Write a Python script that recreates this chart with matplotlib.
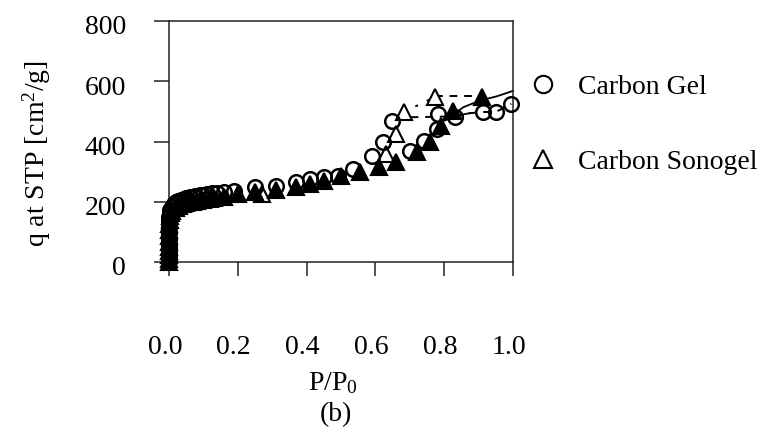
import matplotlib
matplotlib.use("Agg")
import matplotlib.pyplot as plt
from matplotlib.lines import Line2D
from matplotlib.transforms import ScaledTranslation

plt.rcParams["font.family"] = ["Liberation Serif", "DejaVu Serif"]
plt.rcParams["mathtext.fontset"] = "custom"
plt.rcParams["mathtext.rm"] = "Liberation Serif"
plt.rcParams["mathtext.it"] = "Liberation Serif:italic"

# --- Carbon Gel (open circles) ---
gel_ads_x = [0, 0, 0, 0, 0, 0, 0, 0, 0, 0.001, 0.002, 0.004, 0.008, 0.015,
             0.02, 0.027, 0.035, 0.045, 0.05, 0.06, 0.075, 0.09, 0.10, 0.11,
             0.125, 0.14, 0.16, 0.19, 0.25, 0.31, 0.37, 0.41, 0.45, 0.49,
             0.535, 0.70, 0.74, 0.78, 0.83, 0.913, 0.95, 0.995]
gel_ads_y = [2, 15, 30, 45, 60, 75, 95, 115, 135, 150, 163, 174, 183, 192,
             198, 203, 207, 210, 212, 215, 218, 222, 224, 225,
             228, 230, 232, 236, 249, 252, 266, 276, 282, 286,
             309, 368, 403, 442, 481, 498, 498, 525]
gel_des_x = [0.782, 0.647, 0.622, 0.589]
gel_des_y = [491, 469, 398, 353]
gel_fit_x = [0.80, 0.82, 0.84, 0.86, 0.875]
gel_fit_y = [469, 478, 486, 491, 494]
gel_des_line_x = [0.66, 0.78, 0.83, 0.875, 0.913, 0.95, 0.995]
gel_des_line_y = [480, 482, 484, 494, 498, 498, 525]

# --- Carbon Sonogel (filled: adsorption, open: desorption) ---
sono_ads_x = [0, 0, 0, 0, 0, 0, 0, 0, 0, 0.002, 0.004, 0.006, 0.01, 0.02,
              0.03, 0.04, 0.05, 0.06, 0.07, 0.08, 0.09, 0.10, 0.12, 0.13,
              0.16, 0.20, 0.25, 0.31, 0.37, 0.41, 0.45, 0.50, 0.555, 0.61,
              0.66, 0.72, 0.76, 0.79, 0.826, 0.91]
sono_ads_y = [0, 10, 22, 35, 50, 65, 85, 105, 125, 140, 152, 162, 170, 180,
              186, 192, 195, 198, 200, 203, 205, 207, 210, 212,
              216, 225, 232, 240, 250, 258, 270, 286, 299, 315,
              332, 365, 398, 452, 502, 548]
sono_des_x = [0.773, 0.683, 0.66, 0.63, 0.27]
sono_des_y = [548, 498, 425, 359, 226]
sono_fit_x = [0.822, 0.856, 0.904, 0.953, 1.0]
sono_fit_y = [486, 514, 536, 550, 568]
sono_dot_x = [0.683, 0.773]
sono_dot_y = [498, 548]
sono_dash_x = [0.773, 0.91]
sono_dash_y = [550, 550]

x_ticks = [0.0, 0.2, 0.4, 0.6, 0.8, 1.0]
y_ticks = [0, 200, 400, 600, 800]

FS = 20

fig = plt.figure(figsize=(7.62, 4.35), dpi=100)
ax = fig.add_axes([169 / 762, 1 - 263 / 435, 344 / 762, 241 / 435])

ms_c = 10.5
ms_t = 11.5
ew = 1.5

# connecting lines
ax.plot(gel_fit_x, gel_fit_y, color="black", lw=1.3, zorder=2)
ax.plot(sono_fit_x, sono_fit_y, color="black", lw=1.3, zorder=2,
        clip_on=False)
ax.plot(gel_des_line_x, gel_des_line_y, color="black", lw=1.4,
        linestyle=(0, (4, 3.5)), zorder=2)
ax.plot(sono_dot_x, sono_dot_y, color="black", lw=1.4,
        linestyle=(0, (1.5, 5)), zorder=2)
ax.plot(sono_dash_x, sono_dash_y, color="black", lw=1.4,
        linestyle=(0, (4, 3.5)), zorder=2)

# markers (left unclipped so points on the axes edges show whole)
ax.plot(sono_des_x, sono_des_y, linestyle="none", marker="^", ms=ms_t,
        mfc="white", mec="black", mew=ew, zorder=3, clip_on=False)
ax.plot(sono_ads_x, sono_ads_y, linestyle="none", marker="^", ms=ms_t,
        mfc="black", mec="black", mew=ew, zorder=3, clip_on=False)
ax.plot(gel_ads_x, gel_ads_y, linestyle="none", marker="o", ms=ms_c,
        mfc="none", mec="black", mew=ew + 0.3, zorder=4, clip_on=False)
ax.plot(gel_des_x, gel_des_y, linestyle="none", marker="o", ms=ms_c,
        mfc="none", mec="black", mew=ew + 0.3, zorder=4, clip_on=False)

ax.set_xlim(0, 1.0)
ax.set_ylim(0, 800)
ax.set_xticks(x_ticks)
ax.set_xticklabels([f"{v:.1f}" for v in x_ticks])
ax.set_yticks(y_ticks)
ax.set_yticklabels([str(v) for v in y_ticks])
for s in ax.spines.values():
    s.set_linewidth(1.1)
    s.set_color("#222222")
ax.tick_params(axis="x", direction="out", length=10, width=1.1, pad=42,
               labelsize=FS, color="#222222")
ax.tick_params(axis="y", direction="out", length=11, width=1.1, pad=20,
               labelsize=FS, color="#222222")
shift_x = ScaledTranslation(-4 / 100, 0, fig.dpi_scale_trans)
for lab in ax.get_xticklabels():
    lab.set_transform(lab.get_transform() + shift_x)
shift_y = ScaledTranslation(0, -3 / 100, fig.dpi_scale_trans)
for lab in ax.get_yticklabels():
    lab.set_transform(lab.get_transform() + shift_y)
ax.set_facecolor("none")

# axis titles
fig.text(37 / 762, 1 - 154 / 435, "q at STP [cm$^2$/g]", rotation=90,
         ha="center", va="center", fontsize=FS)
fig.text(333 / 762, 1 - 383 / 435, "P/P$_0$", ha="center", va="center",
         fontsize=FS)
fig.text(336 / 762, 1 - 415 / 435, "(b)", ha="center", va="center",
         fontsize=FS)

# legend
leg_handles = [
    Line2D([], [], linestyle="none", marker="o", ms=12.5, mfc="none",
           mec="black", mew=1.5),
    Line2D([], [], linestyle="none", marker="^", ms=13.5, mfc="none",
           mec="black", mew=1.5),
]
leg = fig.legend(leg_handles, ["Carbon Gel", "Carbon Sonogel"],
                 loc="upper left", bbox_to_anchor=(529 / 762, 1 - 75 / 435),
                 frameon=False, fontsize=FS, handlelength=1.0,
                 handletextpad=0.76, labelspacing=1.78, borderpad=0,
                 borderaxespad=0)

fig.savefig("out.png", dpi=100)
